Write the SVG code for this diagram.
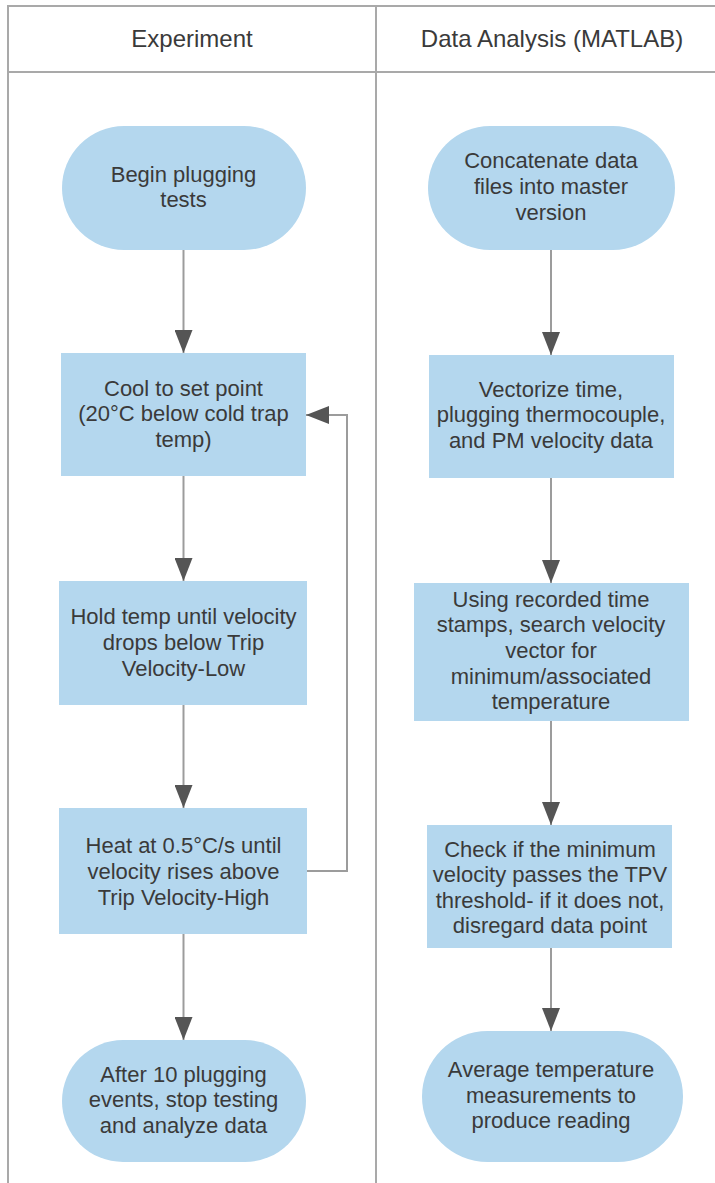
<svg xmlns="http://www.w3.org/2000/svg" width="715" height="1183" viewBox="0 0 715 1183">
<style>
.frame{fill:none;stroke:#a9a9a9;stroke-width:2}
.node{fill:#b4d7ee;stroke:none}
.t{font-family:"Liberation Sans",Arial,sans-serif;font-size:22px;fill:#3a3a3a;text-anchor:middle}
.h{font-family:"Liberation Sans",Arial,sans-serif;font-size:24px;fill:#3a3a3a;text-anchor:middle}
.edge{fill:none;stroke:#9c9c9c;stroke-width:2}
</style>
<defs>
<marker id="arrow" markerUnits="userSpaceOnUse" markerWidth="24" markerHeight="18" viewBox="0 0 24 18" refX="23" refY="9" orient="auto">
<path d="M0,0 L23,9 L0,18 Z" fill="#555555"/>
</marker>
</defs>
<rect width="715" height="1183" fill="#ffffff"/>
<g id="lanes">
<path class="frame" d="M8,1183 V6 H727 M376,6 V1183 M8,72 H727"/>
<text class="h" x="192" y="47">Experiment</text>
<text class="h" x="552" y="47">Data Analysis (MATLAB)</text>
</g>
<g id="connectors">
<path class="edge" d="M183.5,250 V353" marker-end="url(#arrow)"/>
<path class="edge" d="M183.5,476 V581" marker-end="url(#arrow)"/>
<path class="edge" d="M183.5,705 V808" marker-end="url(#arrow)"/>
<path class="edge" d="M183.5,934 V1040" marker-end="url(#arrow)"/>
<path class="edge" d="M307,871 H347 V415 H306" marker-end="url(#arrow)"/>
<path class="edge" d="M551,250 V355" marker-end="url(#arrow)"/>
<path class="edge" d="M551,478 V583" marker-end="url(#arrow)"/>
<path class="edge" d="M551,721 V825" marker-end="url(#arrow)"/>
<path class="edge" d="M551,948 V1031" marker-end="url(#arrow)"/>
</g>
<g id="begin">
<rect class="node" x="62" y="126" width="244" height="124" rx="62"/>
<text class="t" x="183.5" y="182">Begin plugging</text>
<text class="t" x="183.5" y="207">tests</text>
</g>
<g id="cool">
<rect class="node" x="61" y="353" width="245" height="123"/>
<text class="t" x="183.5" y="396">Cool to set point</text>
<text class="t" x="183.5" y="421">(20°C below cold trap</text>
<text class="t" x="183.5" y="447">temp)</text>
</g>
<g id="hold">
<rect class="node" x="59" y="581" width="248" height="124"/>
<text class="t" x="183.5" y="624">Hold temp until velocity</text>
<text class="t" x="183.5" y="650">drops below Trip</text>
<text class="t" x="183.5" y="676">Velocity-Low</text>
</g>
<g id="heat">
<rect class="node" x="59" y="808" width="248" height="126"/>
<text class="t" x="183.5" y="853">Heat at 0.5°C/s until</text>
<text class="t" x="183.5" y="879">velocity rises above</text>
<text class="t" x="183.5" y="905">Trip Velocity-High</text>
</g>
<g id="after">
<rect class="node" x="62" y="1040" width="244" height="122" rx="61"/>
<text class="t" x="183.5" y="1082">After 10 plugging</text>
<text class="t" x="183.5" y="1107">events, stop testing</text>
<text class="t" x="183.5" y="1133">and analyze data</text>
</g>
<g id="concatenate">
<rect class="node" x="428" y="126" width="247" height="124" rx="62"/>
<text class="t" x="551" y="168">Concatenate data</text>
<text class="t" x="551" y="194">files into master</text>
<text class="t" x="551" y="220">version</text>
</g>
<g id="vectorize">
<rect class="node" x="429" y="355" width="245" height="123"/>
<text class="t" x="551" y="397">Vectorize time,</text>
<text class="t" x="551" y="422">plugging thermocouple,</text>
<text class="t" x="551" y="448">and PM velocity data</text>
</g>
<g id="search">
<rect class="node" x="414" y="583" width="275" height="138"/>
<text class="t" x="551" y="607">Using recorded time</text>
<text class="t" x="551" y="632">stamps, search velocity</text>
<text class="t" x="551" y="658">vector for</text>
<text class="t" x="551" y="684">minimum/associated</text>
<text class="t" x="551" y="709">temperature</text>
</g>
<g id="check">
<rect class="node" x="427" y="825" width="245" height="123"/>
<text class="t" x="550" y="857">Check if the minimum</text>
<text class="t" x="550" y="882">velocity passes the TPV</text>
<text class="t" x="550" y="908">threshold- if it does not,</text>
<text class="t" x="550" y="933">disregard data point</text>
</g>
<g id="average">
<rect class="node" x="422" y="1031" width="261" height="131" rx="65.5"/>
<text class="t" x="551" y="1077">Average temperature</text>
<text class="t" x="551" y="1103">measurements to</text>
<text class="t" x="551" y="1128">produce reading</text>
</g>
</svg>
